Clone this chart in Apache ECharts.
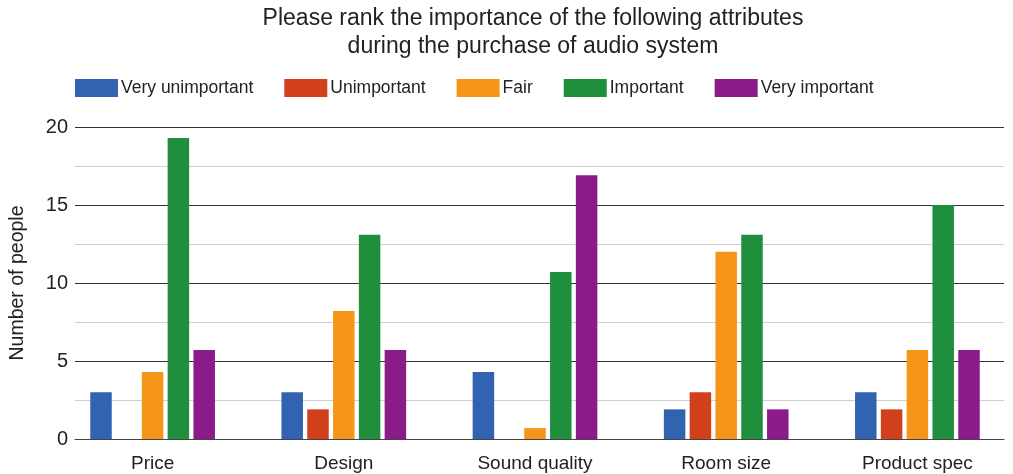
<!DOCTYPE html>
<html>
<head>
<meta charset="utf-8">
<script src="https://cdn.jsdelivr.net/npm/echarts@6/dist/echarts.min.js"></script>
<style>
  html, body { margin: 0; padding: 0; background: #fff; }
  #chart { width: 1013px; height: 474px; }
</style>
</head>
<body>
<div id="chart"></div>
<script>
// Survey: importance of attributes when buying an audio system
const categories = ['Price', 'Design', 'Sound quality', 'Room size', 'Product spec'];
const seriesNames = ['Very unimportant', 'Unimportant', 'Fair', 'Important', 'Very important'];
const veryUnimportant = [3, 3, 4.3, 1.9, 3];
const unimportant     = [0, 1.9, 0, 3, 1.9];
const fair            = [4.3, 8.2, 0.7, 12, 5.7];
const important       = [19.3, 13.1, 10.7, 13.1, 15];
const veryImportant   = [5.7, 5.7, 16.9, 1.9, 5.7];
const colors = ['#3163b0', '#d2401b', '#f5961a', '#1f8f3d', '#8a1b88'];

const values = [veryUnimportant, unimportant, fair, important, veryImportant];
const font = '"Liberation Sans", Arial, sans-serif';

const chart = echarts.init(document.getElementById('chart'), null, { renderer: 'canvas' });

chart.setOption({
  animation: false,
  color: colors,
  textStyle: { fontFamily: font },
  title: {
    text: 'Please rank the importance of the following attributes\nduring the purchase of audio system',
    left: 528,
    textAlign: 'center',
    top: 0,
    textStyle: { fontFamily: font, fontSize: 23, fontWeight: 'normal', color: '#222', lineHeight: 28 }
  },
  legend: {
    data: seriesNames,
    left: 70,
    top: 74,
    itemWidth: 43,
    itemHeight: 18,
    itemGap: 31,
    icon: 'rect',
    textStyle: { fontFamily: font, fontSize: 17.5, color: '#222', padding: [0, 0, 0, -2] }
  },
  grid: [
    // frame carrying the value scale and rules
    { left: 68, right: 9, top: 127, bottom: 35, containLabel: false },
    // frame carrying the bars
    { left: 57, right: 0, top: 127, bottom: 35, containLabel: false }
  ],
  xAxis: [
    {
      gridIndex: 0, type: 'category', data: categories, show: true,
      axisLine: { show: true, lineStyle: { color: '#444', width: 1.2 } },
      axisTick: { show: false }, axisLabel: { show: false }
    },
    {
      gridIndex: 1, type: 'category', data: categories,
      axisLine: { show: false }, axisTick: { show: false },
      axisLabel: { fontFamily: font, fontSize: 19, color: '#222', margin: 15 }
    }
  ],
  yAxis: [
    {
      gridIndex: 0, type: 'value', min: 0, max: 20, interval: 5,
      name: 'Number of people',
      nameLocation: 'middle',
      nameGap: 47,
      nameTextStyle: { fontFamily: font, fontSize: 19.5, color: '#222' },
      axisLine: { show: false }, axisTick: { show: false },
      axisLabel: { fontFamily: font, fontSize: 20, color: '#222', margin: 7 },
      splitLine: { show: true, lineStyle: { color: '#333', width: 1.2 } },
      minorTick: { show: false, splitNumber: 2 },
      minorSplitLine: { show: true, lineStyle: { color: '#cfcfcf', width: 1.2 } }
    },
    {
      gridIndex: 1, type: 'value', min: 0, max: 20, interval: 5, show: false,
      splitLine: { show: false }
    }
  ],
  series: seriesNames.map((name, i) => ({
    name: name,
    type: 'bar',
    xAxisIndex: 1,
    yAxisIndex: 1,
    barWidth: 21.5,
    barGap: '20%',
    data: values[i],
    itemStyle: { color: colors[i] },
    z: 3
  }))
});
</script>
</body>
</html>
